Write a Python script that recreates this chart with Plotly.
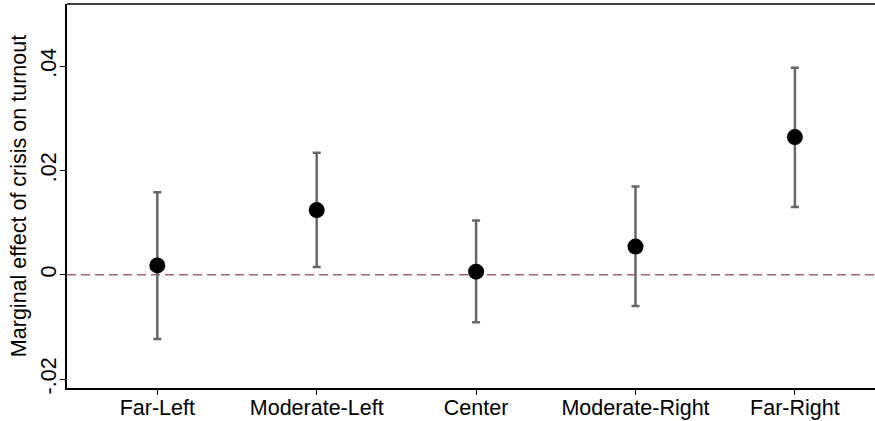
import plotly.graph_objects as go

categories = ["Far-Left", "Moderate-Left", "Center", "Moderate-Right", "Far-Right"]
estimates = [0.0018, 0.0124, 0.0006, 0.0054, 0.0264]
ci_upper = [0.0158, 0.0234, 0.0104, 0.0169, 0.0397]
ci_lower = [-0.0123, 0.0015, -0.0091, -0.0060, 0.0130]
y_tickvals = [-0.02, 0, 0.02, 0.04]
y_ticktext = ["-.02", "0", ".02", ".04"]

x_idx = list(range(len(categories)))
err_plus = [u - e for u, e in zip(ci_upper, estimates)]
err_minus = [e - l for e, l in zip(estimates, ci_lower)]

FONT = "Liberation Sans, Arial, sans-serif"
FS = 21.5

fig = go.Figure()
fig.add_trace(go.Scatter(
    x=x_idx, y=estimates, mode="markers",
    marker=dict(color="black", size=16),
    error_y=dict(type="data", symmetric=False, array=err_plus, arrayminus=err_minus,
                 color="#676767", thickness=2.5, width=4),
    showlegend=False, hoverinfo="skip",
))

fig.add_shape(type="line", xref="paper", yref="y", x0=0, x1=1, y0=0, y1=0,
              line=dict(color="#a86464", width=1.6, dash="9px,5px"), layer="below")
fig.add_shape(type="line", xref="paper", yref="paper", x0=0, x1=1, y0=1, y1=1,
              line=dict(color="black", width=1.5))

fig.update_layout(
    width=875, height=421,
    margin=dict(l=67, r=0, t=4, b=33),
    paper_bgcolor="white", plot_bgcolor="white",
    font=dict(family=FONT, color="black", size=FS),
    xaxis=dict(
        range=[-0.5665, 4.5025], tickvals=x_idx, ticktext=categories,
        showgrid=False, zeroline=False, showline=True, linecolor="black", linewidth=1.5,
        ticks="outside", ticklen=5, tickwidth=1.2, tickcolor="black",
        tickfont=dict(family=FONT, size=FS), ticklabelstandoff=-6,
    ),
    yaxis=dict(
        range=[-0.0217, 0.0519], tickvals=y_tickvals, ticktext=y_ticktext,
        tickangle=-90,
        showgrid=False, zeroline=False, showline=True, linecolor="black", linewidth=1.5,
        ticks="outside", ticklen=5, tickwidth=1.2, tickcolor="black",
        tickfont=dict(family=FONT, size=FS), ticklabelstandoff=-4,
        title=dict(text="Marginal effect of crisis on turnout", font=dict(family=FONT, size=FS),
                   standoff=4),
    ),
)

fig.write_html("out.html")
